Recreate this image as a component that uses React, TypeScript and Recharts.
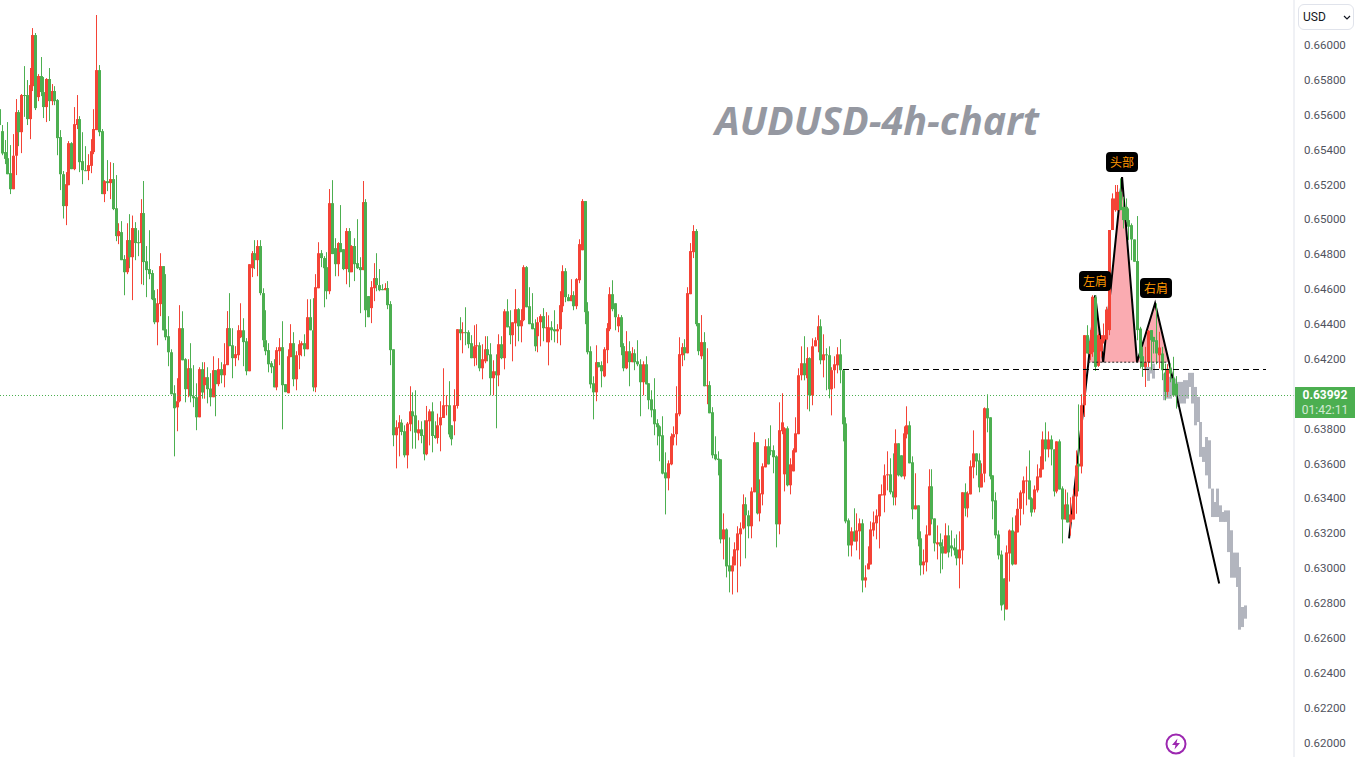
import { Area, Bar, ComposedChart, Line, ReferenceLine, XAxis, YAxis } from 'recharts'

// open, high, low, close in 1/100000 of a dollar, one row per 4h candle
const candles: number[][] = [
  [65632,65673,65273,65541],[65506,65541,65368,65378],[65386,65455,65317,65347],[65351,65558,65259,65259],
  [65265,65426,65145,65173],[65173,65489,65173,65365],[65365,65690,65254,65615],[65615,65627,65420,65500],
  [65500,65719,65380,65713],[65713,65879,65588,65709],[65713,65799,65541,65575],[65575,65868,65460,65770],
  [65764,66097,65736,66057],[66057,66069,65627,65638],[65701,65833,65678,65822],[65822,65931,65707,65730],
  [65730,65816,65581,65644],[65644,65810,65558,65805],[65805,65868,65564,65678],[65678,65776,65655,65736],
  [65736,65764,65655,65678],[65684,65690,65368,65466],[65472,65512,65168,65259],[65259,65277,65005,65076],
  [65076,65271,64967,65202],[65196,65449,65196,65437],[65437,65443,65288,65288],[65288,65644,65282,65546],
  [65541,65713,65518,65575],[65575,65592,65271,65328],[65334,65500,65202,65282],[65282,65420,65277,65277],
  [65277,65374,65225,65311],[65307,65460,65265,65391],[65386,65632,65374,65518],[65512,66172,65512,65856],
  [65856,65885,65477,65500],[65506,65518,65145,65145],[65145,65225,65099,65219],[65219,65340,65162,65208],
  [65208,65328,65116,65231],[65231,65323,65053,65059],[65064,65254,64875,64904],[64904,64978,64858,64933],
  [64927,64990,64766,64766],[64772,64795,64565,64697],[64697,64978,64686,64881],[64881,65030,64720,64783],
  [64783,65022,64537,64950],[64950,64984,64766,64864],[64869,64938,64789,64864],[64864,65116,64628,65036],
  [65036,65220,64623,64755],[64760,64847,64554,64709],[64715,64938,64657,64686],[64692,64709,64537,64542],
  [64548,64594,64399,64410],[64410,64600,64278,64519],[64514,64806,64445,64732],[64732,64732,64364,64364],
  [64370,64686,64307,64324],[64330,64445,64158,64238],[64238,64255,63997,63997],[64003,64049,63641,63917],
  [63922,64089,63785,63957],[63957,64508,63951,64376],[64376,64473,64192,64192],[64198,64204,63951,64026],
  [64026,64198,63980,64146],[64146,64290,63951,63986],[63986,64164,63923,63974],[63980,64060,63791,63865],
  [63865,64152,63865,64141],[64141,64181,63972,64007],[64049,64181,63972,64095],[64095,64152,63945,64026],
  [64030,64118,63928,63980],[63980,64215,63980,64135],[64135,64135,63871,64055],[64055,64204,64043,64141],
  [64141,64181,64060,64106],[64106,64290,64037,64169],[64164,64474,64164,64376],[64376,64577,64273,64273],
  [64278,64376,64089,64204],[64204,64273,64158,64227],[64221,64393,64192,64364],[64324,64519,64319,64364],
  [64364,64433,64158,64296],[64301,64319,64106,64129],[64129,64743,64129,64743],[64720,64818,64669,64806],
  [64806,64881,64715,64766],[64766,64881,64674,64847],[64847,64881,64565,64577],[64577,64605,64267,64307],
  [64307,64479,64221,64244],[64250,64290,64123,64169],[64175,64187,64118,64152],[64158,64198,64037,64037],
  [64037,64267,64020,64250],[64244,64319,64164,64267],[64267,64416,63796,64049],[64055,64055,64009,64009],
  [64003,64255,64003,64215],[64210,64399,64210,64290],[64290,64353,64043,64083],[64083,64244,64020,64221],
  [64221,64307,64141,64284],[64278,64301,64215,64290],[64290,64341,64215,64255],[64255,64542,64255,64439],
  [64439,64542,64364,64364],[64364,64548,64014,64037],[64037,64686,64009,64611],[64605,64869,64605,64806],
  [64806,64824,64726,64778],[64778,64789,64496,64720],[64726,64812,64542,64588],[64588,65174,64571,65093],
  [65093,65225,64801,64801],[64835,64892,64674,64743],[64743,64869,64674,64864],[64864,65082,64812,64812],
  [64829,64829,64709,64715],[64715,64950,64628,64933],[64933,64950,64611,64697],[64697,64852,64697,64847],
  [64847,64892,64646,64743],[64749,65001,64715,64720],[64726,64783,64462,64709],[64709,65220,64709,65099],
  [65099,65116,64382,64479],[64560,64560,64439,64439],[64491,64646,64405,64611],[64605,64749,64531,64663],
  [64663,64806,64588,64623],[64623,64715,64588,64594],[64600,64628,64594,64594],[64594,64634,64594,64606],
  [64606,64646,64485,64508],[64514,64531,64164,64250],[64255,64255,63699,63762],[63762,63848,63572,63808],
  [63802,63877,63641,63836],[63834,63853,63762,63781],[63785,63819,63635,63647],[63647,63838,63572,63829],
  [63825,64043,63785,63899],[63899,64008,63685,63871],[63876,64020,63685,63777],[63773,63848,63733,63796],
  [63796,63842,63716,63758],[63762,63848,63618,63653],[63653,63930,63647,63848],[63842,63911,63704,63899],
  [63899,63951,63664,63758],[63762,63842,63742,63746],[63746,63886,63714,63819],[63819,63957,63670,63865],
  [63861,64146,63861,63934],[63930,63991,63876,63934],[63934,64072,63750,63767],[63819,63819,63704,63739],
  [63842,64026,63762,63934],[63930,64370,63915,64370],[64370,64439,64307,64347],[64351,64410,64232,64353],
  [64353,64496,64278,64349],[64353,64364,64261,64284],[64290,64336,64204,64204],[64204,64393,64158,64272],
  [64272,64399,64163,64278],[64278,64295,64129,64146],[64146,64284,64083,64198],[64186,64330,64175,64255],
  [64255,64330,64186,64221],[64226,64290,63991,64089],[64089,64192,63991,64129],[64129,64226,63802,64106],
  [64106,64341,64043,64284],[64284,64330,64198,64204],[64204,64485,64140,64473],[64473,64542,64381,64381],
  [64387,64479,64284,64336],[64336,64410,64186,64410],[64404,64600,64272,64485],[64485,64491,64301,64387],
  [64387,64485,64295,64422],[64422,64737,64416,64726],[64726,64732,64496,64496],[64502,64611,64399,64399],
  [64404,64577,64370,64370],[64376,64427,64244,64272],[64330,64439,64238,64410],[64410,64456,64272,64445],
  [64445,64491,64301,64376],[64381,64468,64295,64381],[64295,64450,64163,64381],[64381,64416,64307,64364],
  [64370,64479,64295,64358],[64358,64399,64290,64370],[64370,64588,64278,64508],[64502,64737,64468,64703],
  [64703,64720,64525,64554],[64554,64571,64531,64531],[64531,64657,64531,64565],[64565,64588,64479,64502],
  [64502,64663,64485,64657],[64651,64886,64634,64858],[64823,65116,64823,65105],[65105,65105,64399,64468],
  [64473,64525,64226,64238],[64244,64272,64031,64054],[64060,64100,63853,64008],[64008,64278,63957,64181],
  [64181,64181,64152,64152],[64164,64186,64037,64129],[64100,64267,64095,64255],[64250,64405,64175,64376],
  [64370,64611,64359,64571],[64571,64651,64473,64485],[64519,64519,64364,64439],[64387,64456,64353,64439],
  [64439,64451,64221,64267],[64273,64290,64129,64146],[64146,64359,64141,64244],[64244,64301,64043,64181],
  [64181,64267,64181,64232],[64232,64255,64135,64181],[64186,64307,64158,64169],[64169,64198,63871,64066],
  [64066,64186,63991,64169],[64169,64215,64054,64054],[64060,64060,63911,63963],[63968,64020,63865,63905],
  [63911,64089,63762,63825],[63831,63854,63704,63808],[63813,63819,63613,63756],[63762,63871,63538,63542],
  [63549,63664,63308,63515],[63515,63618,63446,63601],[63595,63773,63590,63756],[63750,63813,63704,63768],
  [63768,64043,63704,63888],[63882,64324,63871,64227],[64221,64290,64158,64267],[64267,64313,64192,64232],
  [64232,64611,64232,64577],[64571,64864,64571,64818],[64812,64967,64778,64933],[64933,64944,64387,64399],
  [64405,64405,64221,64244],[64215,64451,64198,64296],[64296,64353,64043,64043],[64043,64261,63940,64049],
  [64049,64072,63888,63888],[63894,63923,63630,63647],[63653,63756,63618,63624],[63628,63670,63532,63620],
  [63624,63624,63142,63165],[63165,63314,63050,63222],[63222,63228,62947,63010],[63016,63176,62861,62981],
  [62981,63067,62849,63016],[63016,63148,63016,63108],[63102,63240,62861,63199],[63194,63262,63010,63228],
  [63228,63423,63222,63366],[63366,63406,63056,63303],[63303,63331,63171,63240],[63240,63463,63171,63440],
  [63435,63779,63435,63722],[63722,63722,63308,63314],[63314,63509,63268,63429],[63423,63601,63360,63584],
  [63578,63739,63578,63699],[63699,63745,63595,63595],[63676,63819,63647,63670],[63676,63704,63544,63636],
  [63641,63647,63119,63251],[63251,63951,63194,63791],[63785,64003,63768,63836],[63538,63808,63440,63802],
  [63802,63813,63469,63475],[63475,63630,63423,63595],[63555,63687,63555,63676],[63664,63865,63664,63773],
  [63768,64146,63768,64106],[64106,64272,64077,64175],[64175,64330,64077,64106],[64089,64267,63911,64204],
  [64204,64209,63899,63991],[63991,64318,63934,64272],[64272,64324,64272,64307],[64307,64450,64238,64387],
  [64387,64427,64169,64192],[64192,64341,64094,64226],[64226,64261,64020,64221],[64221,64272,63974,64026],
  [64026,64152,63876,64135],[64135,64215,64031,64169],[64163,64267,64117,64226],[64226,64313,64060,64135],
  [64135,64135,63727,63825],[63830,63865,63257,63268],[63274,63285,63067,63130],[63130,63234,63067,63211],
  [63211,63343,63153,63153],[63153,63314,63102,63216],[63211,63285,63050,63257],[63257,63280,62861,62929],
  [62929,63016,62889,62947],[62993,63125,62993,63027],[63021,63268,63021,63222],[63216,63325,63182,63262],
  [63257,63337,63165,63302],[63297,63423,63113,63423],[63417,63480,63417,63423],[63417,63595,63320,63532],
  [63532,63670,63446,63538],[63538,63630,63423,63435],[63440,63658,63360,63406],[63406,63796,63360,63716],
  [63716,63716,63526,63532],[63647,63647,63521,63526],[63526,63813,63509,63773],[63767,63928,63744,63819],
  [63819,63842,63601,63601],[63607,63641,63280,63337],[63337,63544,63337,63360],[63360,63360,63125,63165],
  [63171,63211,62958,63016],[63016,63107,62964,63038],[63033,63245,62981,63193],[63188,63567,63188,63469],
  [63469,63567,63251,63280],[63285,63285,63096,63142],[63136,63245,63050,63148],[63148,63199,62970,63125],
  [63125,63165,62993,63084],[63084,63257,63084,63188],[63188,63245,63061,63090],[63130,63216,63067,63113],
  [63119,63171,63073,63102],[63107,63193,63016,63056],[63056,63211,62884,63107],[63102,63435,63021,63435],
  [63435,63486,63297,63343],[63343,63440,63291,63429],[63423,63618,63423,63584],[63578,63790,63515,63658],
  [63658,63658,63532,63612],[63618,63658,63435,63463],[63463,63601,63463,63542],[63542,63922,63492,63917],
  [63917,63997,63779,63859],[63865,63865,63509,63526],[63532,63532,63280,63383],[63389,63435,63170,63188],
  [63193,63216,63050,63073],[63078,63101,62757,62786],[62941,62941,62700,62791],[62763,63130,62763,63090],
  [63084,63222,62923,63216],[63216,63291,63015,63021],[63021,63302,63021,63210],[63205,63400,63205,63340],
  [63340,63446,63245,63434],[63429,63526,63308,63503],[63497,63583,63360,63503],[63503,63675,63394,63394],
  [63400,63406,63296,63319],[63337,63474,63319,63451],[63446,63595,63434,63526],[63520,63641,63520,63572],
  [63566,63784,63566,63738],[63738,63836,63612,63681],[63681,63784,63635,63738],[63738,63761,63589,63681],
  [63681,63681,63411,63440],[63440,63727,63429,63727],[63727,63738,63451,63451],[63457,63469,63142,63279],
  [63279,63451,63279,63365],[63365,63434,63262,63262],[63262,63406,63187,63308],[63279,63451,63279,63411],
  [63411,63675,63312,63589],[63599,63939,63440,63583],[63583,63997,63543,63934],[63934,64336,63867,64336],
  [64336,64393,64231,64231],[64227,64365,64192,64301],[64238,64565,64212,64556],[64552,64565,64131,64154],
  [64160,64345,64154,64336],[64244,64336,64212,64313],[64301,64403,64288,64336],[64311,64499,64307,64483],
  [64365,64939,64336,64939],[64939,65149,64939,65120],[65053,65197,65044,65120],[65053,65197,65048,65158],
  [65158,65235,65053,65053],[65072,65130,64948,64996],[65072,65120,64986,64996],[64996,65063,64881,64958],
  [64967,64977,64766,64885],[64885,64885,64757,64757],[64761,65019,64307,64365],[64374,64384,64145,64212],
  [64215,64269,64097,64154],[64154,64269,64039,64181],[64181,64365,64154,64361],[64365,64365,64135,64307],
  [64326,64326,64231,64298],[64307,64518,64169,64231],[64221,64355,64145,64265],[64231,64269,64078,64135],
  [64122,64173,63963,64011],[64011,64170,63982,64143],[64143,64173,64066,64116],[64089,64212,63982,63990],
  [64058,64101,63915,63992],
]

// bar-pattern projection: candle index, high, low
const ghostBars: number[][] = [
  [413,64173,64135],[414,64154,64074],[415,64154,64116],[416,64173,64087],[420,64116,63963],[421,64116,63972],
  [422,64097,63972],[423,64097,64001],[424,64087,64011],[425,64068,63925],[426,64068,63944],[427,64078,63944],
  [428,64078,63972],[429,64120,64039],[430,64120,63944],[431,64039,63819],[432,63982,63838],[433,63838,63638],
  [434,63695,63609],[435,63752,63532],[436,63733,63456],[437,63456,63293],[438,63379,63293],[439,63456,63293],
  [440,63360,63265],[441,63322,63265],[442,63331,63265],[443,63331,63092],[444,63217,62945],[445,63089,62945],
  [446,63089,62892],[447,63006,62647],[448,62777,62662],[449,62786,62710],
]

const patternIndex = [385.6, 392.5, 395, 397.9, 404.7, 410.1, 416.6, 421.7, 439.7]
const patternPrice = [0.63171, 0.64169, 0.64565, 0.64181, 0.65242, 0.64181, 0.64519, 0.64175, 0.62912]
const neckline = 0.64181
const breakLevel = 0.64138
const lastPrice = 0.63992
// 0.64000 sits behind the last-price tag in the reference
const priceTicks = [
  0.66, 0.658, 0.656, 0.654, 0.652, 0.65, 0.648, 0.646, 0.644, 0.642,
  0.638, 0.636, 0.634, 0.632, 0.63, 0.628, 0.626, 0.624, 0.622, 0.62,
]

const RED = '#f44336'
const GREEN = '#4caf50'
const X_DOMAIN = [0.36, 466.66]

const ghostByIndex = new Map(ghostBars.map((g) => [g[0], g]))
const rows = Array.from({ length: 450 }, (_, index) => {
  const c = candles[index]
  const g = ghostByIndex.get(index)
  return {
    index,
    open: c ? c[0] / 100000 : null,
    high: c ? c[1] / 100000 : null,
    low: c ? c[2] / 100000 : null,
    close: c ? c[3] / 100000 : null,
    candle: c ? [c[2] / 100000, c[1] / 100000] : null,
    ghost: g ? [g[2] / 100000, g[1] / 100000] : null,
  }
})
const patternRows = patternIndex.map((index, i) => ({ index, pattern: patternPrice[i] }))
const fillRows = patternRows.slice(1, 8).map((r) => ({ index: r.index, band: [neckline, r.pattern] }))

function Candle(props: any) {
  const { x, y, width, height, payload } = props
  if (!payload || payload.open == null || !height) return null
  const cx = Math.round(x + width / 2)
  const perUnit = height / (payload.high - payload.low)
  const openY = y + (payload.high - payload.open) * perUnit
  const closeY = y + (payload.high - payload.close) * perUnit
  const color = payload.close >= payload.open ? RED : GREEN
  return (
    <g>
      <rect x={cx} y={y} width={1} height={height} fill={color} />
      <rect x={cx - 1} y={Math.min(openY, closeY)} width={3} height={Math.max(1, Math.abs(closeY - openY))} fill={color} />
    </g>
  )
}

function GhostBar(props: any) {
  const { x, y, width, height, payload } = props
  if (!payload || payload.ghost == null) return null
  return <rect x={Math.round(x + width / 2) - 1} y={y} width={3} height={height} fill="#b2b5be" />
}

const label = (left: number, top: number, text: string) => (
  <div
    style={{
      position: 'absolute', left, top, width: 32, height: 20, lineHeight: '19px', background: '#000', color: '#ff9800',
      borderRadius: 4, fontSize: 12, textAlign: 'center', fontFamily: '"Noto Sans CJK SC"',
    }}
  >
    {text}
  </div>
)

export default function App() {
  return (
    <div style={{ position: 'relative', width: 1355, height: 757, overflow: 'hidden', background: '#fff' }}>
      <style>{'body{margin:0}'}</style>
      <ComposedChart width={1355} height={757} data={rows} margin={{ top: 0, right: 0, bottom: 0, left: 0 }}>
        <XAxis dataKey="index" type="number" domain={X_DOMAIN} hide allowDataOverflow />
        <XAxis xAxisId="ghost" dataKey="index" type="number" domain={X_DOMAIN} hide allowDataOverflow />
        <YAxis
          orientation="right"
          width={61}
          domain={[0.619168, 0.662581]}
          allowDataOverflow
          ticks={priceTicks}
          interval={0}
          tickFormatter={(v: number) => v.toFixed(5)}
          tick={{ fill: '#50535e', fontSize: 11.5, fontFamily: 'Roboto' }}
          tickLine={false}
          tickMargin={4}
          axisLine={{ stroke: '#e0e3eb' }}
        />
        <ReferenceLine y={lastPrice} stroke={GREEN} strokeDasharray="1 2" shapeRendering="crispEdges" />
        <Area
          data={fillRows}
          dataKey="band"
          stroke="none"
          fill="#f23645"
          fillOpacity={0.42}
          isAnimationActive={false}
          dot={false}
          activeDot={false}
        />
        <ReferenceLine
          segment={[{ x: patternIndex[1], y: neckline }, { x: patternIndex[7], y: neckline }]}
          stroke="#222"
          strokeDasharray="2 2"
        />
        <Bar xAxisId="ghost" dataKey="ghost" barSize={3} shape={<GhostBar />} isAnimationActive={false} zIndex={200} />
        <Line
          data={patternRows}
          dataKey="pattern"
          stroke="#000"
          strokeWidth={2}
          dot={false}
          activeDot={false}
          isAnimationActive={false}
          zIndex={250}
        />
        <Bar dataKey="candle" barSize={3} shape={<Candle />} isAnimationActive={false} zIndex={300} />
        <ReferenceLine
          segment={[{ x: 304.2, y: breakLevel }, { x: 456.6, y: breakLevel }]}
          stroke="#000"
          strokeDasharray="6 4"
          shapeRendering="crispEdges"
        />
      </ComposedChart>

      <div
        style={{
          position: 'absolute', left: 715, top: 96, fontFamily: '"Open Sans"', fontStyle: 'italic', fontWeight: 700,
          fontSize: 39.5, color: '#9598a1', lineHeight: '48px', whiteSpace: 'nowrap',
        }}
      >
        AUDUSD-4h-chart
      </div>
      {label(1106, 152, '头部')}
      {label(1079, 271, '左肩')}
      {label(1140, 278, '右肩')}

      <div
        style={{
          position: 'absolute', left: 1298, top: 4, width: 50, height: 24, border: '1px solid #e0e3eb', borderRadius: 6,
          fontFamily: 'Roboto', fontSize: 12, lineHeight: '24px', color: '#131722', paddingLeft: 4,
        }}
      >
        USD
        <svg width="8" height="6" style={{ position: 'absolute', left: 44, top: 10 }}>
          <path d="M1 1 L4 4 L7 1" fill="none" stroke="#131722" strokeWidth="1.2" />
        </svg>
      </div>

      <div
        style={{
          position: 'absolute', left: 1295, top: 387, width: 60, height: 31, background: GREEN, color: '#fff',
          fontFamily: 'Roboto', fontSize: 12, lineHeight: '15px', textAlign: 'center', paddingTop: 1, boxSizing: 'border-box',
        }}
      >
        <div style={{ fontWeight: 700 }}>0.63992</div>
        <div style={{ opacity: 0.75 }}>01:42:11</div>
      </div>

      <svg width="24" height="24" style={{ position: 'absolute', left: 1164, top: 732 }}>
        <circle cx="12" cy="12" r="9.5" fill="none" stroke="#9c27b0" strokeWidth="2" />
        <path d="M13.5 6.5 L8 13 L11.5 13 L10.5 17.5 L16 11 L12.5 11 Z" fill="#9c27b0" />
      </svg>
    </div>
  )
}
